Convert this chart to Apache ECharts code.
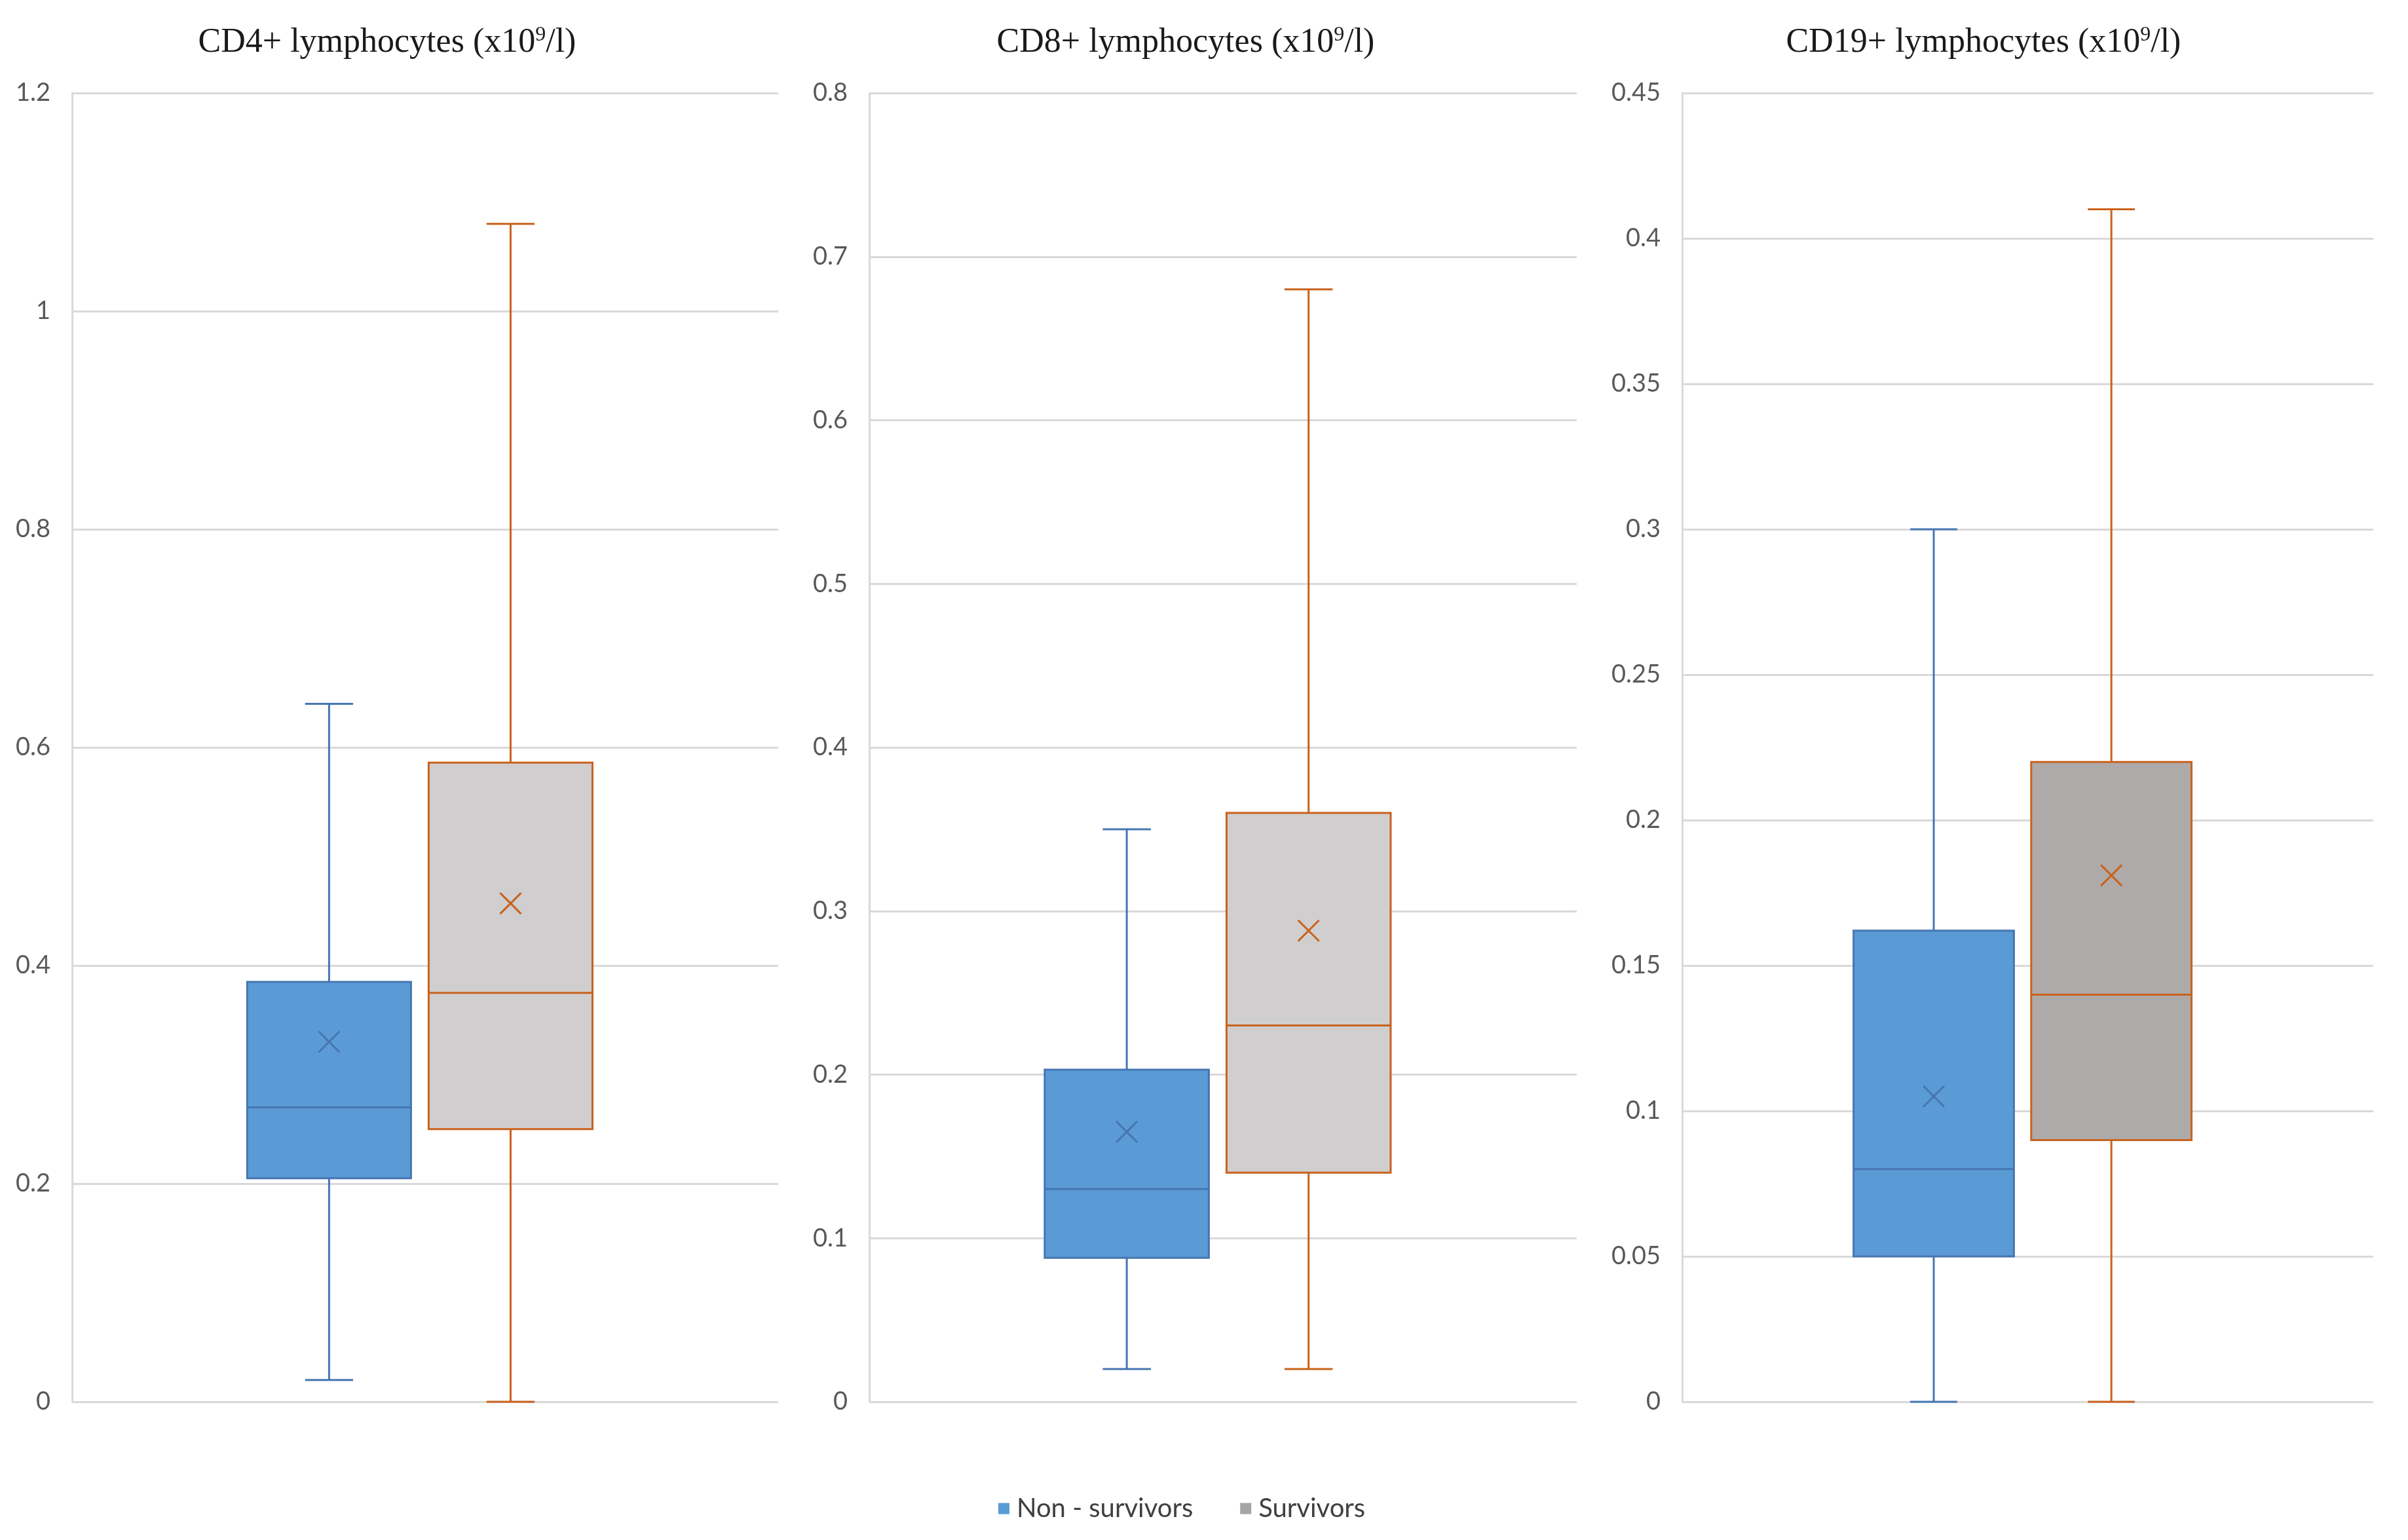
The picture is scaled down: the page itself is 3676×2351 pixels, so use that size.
<!DOCTYPE html>
<html>
<head>
<meta charset="utf-8">
<script src="https://cdn.jsdelivr.net/npm/echarts@6/dist/echarts.min.js"></script>
<style>
html,body{margin:0;padding:0;background:#fff;}
#chart{width:3676px;height:2351px;}
</style>
</head>
<body>
<div id="chart"></div>
<script>
// ---- data ----
const panelTitles = ['CD4+ lymphocytes', 'CD8+ lymphocytes', 'CD19+ lymphocytes'];
const groupNames = ['Non - survivors', 'Survivors'];
// each entry: [min, Q1, median, Q3, max, mean]
const cd4NonSurvivors  = [0.02, 0.205, 0.27, 0.385, 0.64, 0.33];
const cd4Survivors     = [0.00, 0.25, 0.375, 0.586, 1.08, 0.457];
const cd8NonSurvivors  = [0.02, 0.088, 0.13, 0.203, 0.35, 0.165];
const cd8Survivors     = [0.02, 0.14, 0.23, 0.36, 0.68, 0.288];
const cd19NonSurvivors = [0.00, 0.05, 0.08, 0.162, 0.30, 0.105];
const cd19Survivors    = [0.00, 0.09, 0.14, 0.22, 0.41, 0.181];
const yMaxes = [1.2, 0.8, 0.45];
const yIntervals = [0.2, 0.1, 0.05];

const panelData = [
  [cd4NonSurvivors, cd4Survivors],
  [cd8NonSurvivors, cd8Survivors],
  [cd19NonSurvivors, cd19Survivors]
];

// ---- style / layout ----
const grids = [
  {left: 110, top: 142, width: 1078, height: 1998},
  {left: 1327, top: 142, width: 1080, height: 1998},
  {left: 2568, top: 142, width: 1055, height: 1998}
];
const titleCenters = [591, 1810, 3028];
const blueFill = '#5B9BD5';
const blueLine = '#4676B2';
const orangeLine = '#C9621C';
const survFills = ['#D0CECE', '#D0CECE', '#AEAAAA'];
const offsets = [-0.136, 0.121];
const boxFrac = 0.232;
const capFrac = 0.068;

function makeRender(groupIdx, panelIdx) {
  return function (params, api) {
    const xv = api.value(0);
    const band = api.size([1, 0])[0];
    const base = api.coord([xv, 0]);
    const cx = base[0] + offsets[groupIdx] * band;
    const hw = boxFrac * band / 2;
    const hc = capFrac * band / 2;
    const y = i => api.coord([xv, api.value(i)])[1];
    const yMin = y(1), yQ1 = y(2), yMed = y(3), yQ3 = y(4), yMaxV = y(5), yMean = y(6);
    const stroke = groupIdx === 0 ? blueLine : orangeLine;
    const fill = groupIdx === 0 ? blueFill : survFills[panelIdx];
    const ls = {stroke: stroke, lineWidth: 3};
    const mk = 16;
    return {
      type: 'group',
      children: [
        {type: 'line', shape: {x1: cx, y1: yMaxV, x2: cx, y2: yQ3}, style: ls},
        {type: 'line', shape: {x1: cx, y1: yQ1, x2: cx, y2: yMin}, style: ls},
        {type: 'line', shape: {x1: cx - hc, y1: yMaxV, x2: cx + hc, y2: yMaxV}, style: ls},
        {type: 'line', shape: {x1: cx - hc, y1: yMin, x2: cx + hc, y2: yMin}, style: ls},
        {type: 'rect', shape: {x: cx - hw, y: yQ3, width: 2 * hw, height: yQ1 - yQ3},
          style: {fill: fill, stroke: stroke, lineWidth: 3}},
        {type: 'line', shape: {x1: cx - hw, y1: yMed, x2: cx + hw, y2: yMed}, style: ls},
        {type: 'line', shape: {x1: cx - mk, y1: yMean - mk, x2: cx + mk, y2: yMean + mk}, style: ls},
        {type: 'line', shape: {x1: cx - mk, y1: yMean + mk, x2: cx + mk, y2: yMean - mk}, style: ls}
      ]
    };
  };
}

const titles = panelTitles.map((t, i) => ({
  text: t + ' (x10{sup|9}/l)',
  left: titleCenters[i],
  top: 38,
  textAlign: 'center',
  padding: 0,
  textStyle: {
    fontFamily: 'Liberation Serif',
    fontSize: 52,
    fontWeight: 'normal',
    color: '#1a1a1a',
    rich: {
      sup: {fontFamily: 'Liberation Serif', fontSize: 32, color: '#1a1a1a', verticalAlign: 'top', padding: [0, 0, 22, 0]}
    }
  }
}));

const xAxes = grids.map((g, i) => ({
  type: 'category', gridIndex: i, data: [panelTitles[i]], boundaryGap: true,
  axisLine: {show: false}, axisTick: {show: false}, axisLabel: {show: false}, splitLine: {show: false}
}));
const yAxes = grids.map((g, i) => ({
  type: 'value', gridIndex: i, min: 0, max: yMaxes[i], interval: yIntervals[i],
  axisLine: {show: true, lineStyle: {color: '#D9D9D9', width: 3}},
  axisTick: {show: false},
  splitLine: {show: true, lineStyle: {color: '#D9D9D9', width: 3}},
  axisLabel: {margin: 33, fontFamily: 'Lato', fontSize: 38, color: '#595959',
    formatter: v => String(parseFloat(v.toFixed(4)))}
}));

const series = [];
panelData.forEach((pair, p) => {
  pair.forEach((vals, gi) => {
    series.push({
      name: groupNames[gi],
      type: 'custom',
      xAxisIndex: p, yAxisIndex: p,
      itemStyle: {color: gi === 0 ? blueFill : '#A5A5A5'},
      renderItem: makeRender(gi, p),
      encode: {x: 0, y: [1, 2, 3, 4, 5, 6]},
      data: [[0].concat(vals)],
      silent: true
    });
  });
});

const chart = echarts.init(document.getElementById('chart'), null, {renderer: 'canvas'});
chart.setOption({
  animation: false,
  backgroundColor: '#ffffff',
  title: titles,
  legend: {
    data: [
      {name: groupNames[0], itemStyle: {color: blueFill}},
      {name: groupNames[1], itemStyle: {color: '#A5A5A5'}}
    ],
    left: 1519, top: 2278, icon: 'rect', itemWidth: 17, itemHeight: 17, itemGap: 72,
    textStyle: {fontFamily: 'Lato', fontSize: 40, color: '#404040', padding: [0, 0, 0, 6]}
  },
  grid: grids,
  xAxis: xAxes,
  yAxis: yAxes,
  series: series
});
</script>
</body>
</html>
